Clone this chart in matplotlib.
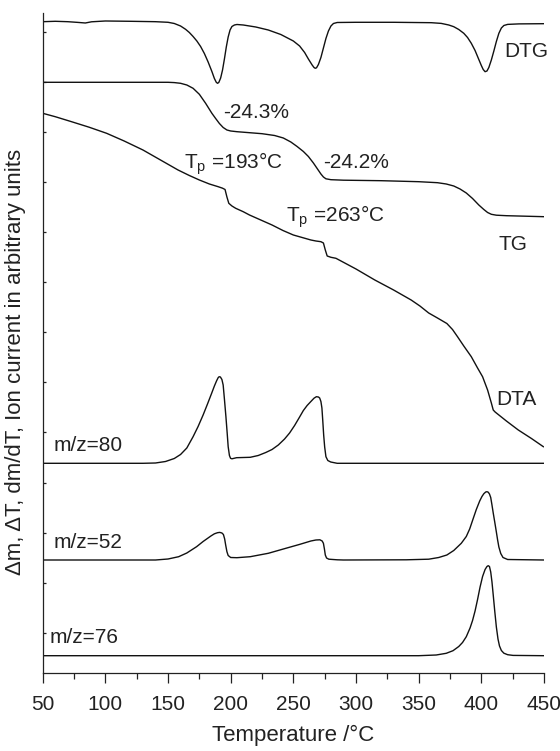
import numpy as np
import matplotlib
matplotlib.use("Agg")
import matplotlib.pyplot as plt
from matplotlib.ticker import MultipleLocator

plt.rcParams['font.family'] = ['Liberation Sans', 'DejaVu Sans']
plt.rcParams['mathtext.fontset'] = 'custom'
plt.rcParams['mathtext.rm'] = 'Liberation Sans'
plt.rcParams['mathtext.default'] = 'regular'

# ---------------- data (arbitrary units, stacked) ----------------
dtg_T = [50, 60, 70, 78, 84, 89, 100, 120, 140, 150, 155, 160, 164, 167, 170, 173, 176, 179,
         182, 185, 187, 188.5, 189.5, 190.5, 192, 193.5, 195, 196.5, 198, 199.5, 201, 203,
         205, 210, 220, 230, 240, 250, 255, 259, 262, 265, 266.5, 267.5, 268.5, 270, 272, 274,
         276, 278, 280, 282, 285, 300, 330, 360, 368, 374, 378, 382, 386, 389, 392, 395, 398,
         400, 401.5, 403, 404.5, 406, 408, 410, 412, 414, 416, 418, 421, 430, 450]
dtg_y = [651.3, 651.7, 651.3, 650.6, 650.0, 651.2, 652.0, 651.7, 651.3, 650.7, 649.5, 647.0,
         643.7, 640.5, 636.5, 632.0, 626.5, 619.5, 611.0, 601.5, 594.5, 590.7, 589.7, 590.5,
         595.0, 603.0, 614.0, 626.0, 636.0, 643.0, 646.5, 648.0, 648.5, 648.0, 646.0, 643.0,
         638.5, 632.0, 627.0, 620.5, 614.0, 608.0, 605.5, 604.7, 605.2, 608.5, 615.5, 625.0,
         634.5, 642.0, 647.0, 649.5, 650.5, 650.7, 650.7, 650.3, 649.6, 648.0, 646.3, 643.5,
         639.7, 635.5, 629.7, 622.5, 613.5, 607.5, 603.5, 601.3, 602.0, 605.5, 613.0, 622.0,
         631.5, 639.7, 645.0, 647.5, 648.6, 649.1, 649.3]

tg_T = [50, 100, 150, 155, 160, 165, 170, 175, 180, 185, 188, 191, 194, 197, 200, 205, 215,
        225, 235, 242, 248, 253, 258, 262, 266, 269, 272, 274, 276, 280, 290, 320, 350, 365,
        372, 378, 383, 388, 393, 398, 402, 405, 408, 412, 420, 450]
tg_y = [590.7, 590.7, 590.7, 590.4, 589.7, 588.0, 584.7, 578.7, 569.7, 559.7, 554.5, 549.5,
        545.5, 543.0, 542.0, 541.3, 540.3, 539.3, 537.5, 535.0, 531.0, 526.5, 521.5, 516.5,
        510.0, 504.5, 499.0, 496.0, 494.2, 493.3, 492.8, 492.3, 491.3, 490.3, 489.0, 487.0,
        484.0, 480.0, 474.5, 468.0, 463.5, 460.5, 458.7, 457.8, 457.3, 456.3]

dta_T = [50, 60, 73, 87, 101, 115, 130, 144, 158, 167, 175, 183, 190, 193.5, 195.5, 197, 198.5,
         201, 204, 210, 215, 224, 233, 241.7, 250, 257, 264, 268, 272, 274, 275.5, 277, 280,
         284, 300, 315, 330, 344, 351, 358, 365, 372.5, 377, 381, 386, 392, 397, 401, 405, 408,
         409.5, 411, 420, 429.5, 440, 449.5]
dta_y = [559.7, 556.3, 551.3, 545.8, 539.7, 532.0, 523.0, 513.0, 503.0, 497.5, 493.0, 489.0,
         486.3, 484.8, 483.5, 476.0, 469.7, 467.0, 464.7, 461.3, 458.0, 453.0, 448.0, 442.5,
         438.0, 435.5, 433.0, 432.0, 431.3, 430.0, 423.0, 417.0, 415.7, 414.7, 404.0, 393.0,
         383.0, 373.0, 367.0, 360.0, 355.0, 349.5, 343.5, 336.3, 327.0, 316.3, 305.0, 296.3,
         283.0, 270.0, 263.0, 261.0, 252.0, 243.0, 234.5, 226.3]

mz80_T = [50, 130, 140, 148, 155, 160, 165, 170, 174, 178, 181.5, 184.8, 187, 188.8, 190,
          190.8, 191.8, 193, 194, 195, 196.2, 197.2, 198, 199, 199.9, 201, 204.7, 215.6, 222,
          228, 233, 238, 243, 247, 251, 255, 258, 261, 264, 266.5, 268.4, 270, 271, 272, 272.8,
          273.5, 274.2, 275, 276, 277.5, 279.8, 285, 450]
mz80_y = [209.7, 209.7, 210.0, 211.5, 214.5, 218.5, 225.0, 236.3, 246.5, 258.0, 269.0, 279.7,
          287.0, 292.3, 295.3, 296.3, 296.0, 293.5, 288.0, 274.0, 256.3, 240.0, 226.3, 217.5,
          214.7, 214.2, 215.3, 215.7, 217.5, 220.5, 223.5, 228.0, 234.0, 240.0, 247.5, 256.0,
          262.5, 267.5, 271.5, 274.8, 276.3, 276.0, 275.0, 271.5, 265.0, 252.0, 238.0, 226.0,
          216.3, 212.5, 211.0, 209.7, 209.7]

mz52_T = [50, 140, 150, 158.5, 165, 172.8, 178, 184.2, 187, 189.5, 191.3, 193, 194.2, 195.2,
          196, 197, 198, 200, 205, 215.6, 230, 244, 255, 264, 268, 271.2, 273, 274, 274.8,
          275.5, 276.5, 278.3, 285, 290, 340, 358, 366, 372.5, 378, 384, 388, 390.7, 393.4,
          396, 398.7, 400.5, 402, 403.5, 404.5, 405.5, 406.5, 407.5, 408.5, 409.5, 410.7, 412,
          413, 414, 415.5, 417.3, 421, 450]
mz52_y = [113.0, 113.0, 114.0, 116.3, 120.0, 126.3, 131.5, 137.0, 139.2, 140.3, 140.6, 140.0,
          138.5, 134.0, 128.0, 121.3, 117.5, 115.5, 115.3, 116.3, 119.7, 124.7, 128.6, 132.0,
          133.0, 133.2, 132.0, 129.7, 124.0, 118.0, 115.0, 113.8, 113.2, 113.0, 113.2, 113.8,
          115.5, 118.0, 122.5, 129.7, 136.5, 144.0, 154.0, 163.5, 172.0, 176.5, 179.3, 181.0,
          181.3, 180.8, 179.0, 175.5, 168.0, 160.0, 151.0, 141.0, 133.0, 126.0, 119.5, 115.5,
          113.5, 113.0]

mz76_T = [50, 350, 364, 372, 377.4, 382, 385, 388, 391, 393, 395, 397, 399, 401, 403, 404.5,
          405.5, 406.5, 407.5, 408.5, 409.5, 410.7, 412, 413.3, 414.5, 416, 418, 421, 425.3, 450]
mz76_y = [17.3, 17.3, 18.0, 19.7, 22.3, 26.5, 30.5, 36.3, 45.0, 52.5, 62.0, 73.5, 86.0, 96.5,
          103.5, 106.5, 107.3, 106.5, 101.0, 91.0, 78.0, 62.0, 46.0, 34.0, 27.0, 22.5, 19.8,
          18.3, 17.6, 17.3]

xticks = [50, 100, 150, 200, 250, 300, 350, 400, 450]

# ---------------- figure ----------------
fig = plt.figure(figsize=(5.6, 7.51), dpi=100)
ax = fig.add_axes([0.07625, 0.10386, 0.89515, 0.87924])

lc = '#111111'
lw = 1.0
for T, y in [(dtg_T, dtg_y), (tg_T, tg_y), (dta_T, dta_y),
             (mz80_T, mz80_y), (mz52_T, mz52_y), (mz76_T, mz76_y)]:
    ax.plot(T, y, color=lc, lw=lw, solid_joinstyle='round')

ax.set_xlim(50, 450)
ax.set_ylim(0, 660.3)
ax.set_xticks(xticks)
ax.xaxis.set_minor_locator(MultipleLocator(25))
ax.set_yticks(np.arange(641.3, 0, -50.1))
ax.set_yticklabels([])

for s in ['top', 'right']:
    ax.spines[s].set_visible(False)
for s in ['left', 'bottom']:
    ax.spines[s].set_linewidth(0.9)
    ax.spines[s].set_color('#222222')

ax.tick_params(axis='x', which='major', direction='out', length=7.5, width=0.9,
               labelsize=15, pad=8, colors='#222222')
ax.tick_params(axis='x', which='minor', direction='out', length=4.5, width=0.9,
               colors='#222222')
ax.tick_params(axis='y', which='major', direction='in', length=2.5, width=0.9,
               colors='#222222')

ax.set_xlabel('Temperature /°C', fontsize=16, color='#222222', labelpad=8)
fig.text(16 / 560, 1 - 362 / 751, 'Δm, ΔT, dm/dT, Ion current in arbitrary units',
         rotation=90, ha='center', va='center', fontsize=16, color='#222222')

tc = '#222222'
fs = 15
ax.text(417.9, 616, 'DTG', fontsize=fs, color=tc, va='baseline', ha='left')
ax.text(194.2, 554.7, '-24.3%', fontsize=fs, color=tc, va='baseline', ha='left')
ax.text(274, 504.7, '-24.2%', fontsize=fs, color=tc, va='baseline', ha='left')
ax.text(162.7, 504.5, r'T$_{p}$ =193°C', fontsize=fs, color=tc, va='baseline', ha='left')
ax.text(244.5, 451.3, r'T$_{p}$ =263°C', fontsize=fs, color=tc, va='baseline', ha='left')
ax.text(413.7, 423, 'TG', fontsize=fs, color=tc, va='baseline', ha='left')
ax.text(412.3, 268, 'DTA', fontsize=fs, color=tc, va='baseline', ha='left')
ax.text(58.7, 222, 'm/z=80', fontsize=fs, color=tc, va='baseline', ha='left')
ax.text(58.7, 125, 'm/z=52', fontsize=fs, color=tc, va='baseline', ha='left')
ax.text(55.8, 30, 'm/z=76', fontsize=fs, color=tc, va='baseline', ha='left')

fig.savefig('out.png', dpi=100)
